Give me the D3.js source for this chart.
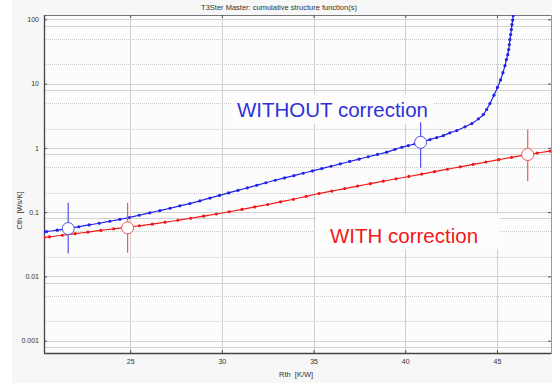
<!DOCTYPE html>
<head>
  <meta charset="utf-8" />
  <script src="https://d3js.org/d3.v7.min.js"></script>
  <style>
    body { margin: 0; background: #f6f7f6; }
    svg { display: block; font-family: "Liberation Sans", Arial, sans-serif; }
  </style>
</head>
<body>
  <div id="chart"></div>
  <script>
    // axes
    const xTicks = [25, 30, 35, 40, 45];
    const yTicks = [0.001, 0.01, 0.1, 1, 10, 100];
    const gridSolid = [0.0008, 0.001, 0.008, 0.01, 0.08, 0.1, 0.8, 1, 8, 10, 80, 100];
    const gridDotted = [0.002, 0.005, 0.02, 0.05, 0.2, 0.5, 2, 5, 20, 50];

    // WITHOUT correction (blue)
    const withoutR = [20.3, 20.44, 21.02, 21.62, 22.20, 22.76, 23.31, 23.89, 24.44, 24.95, 25.49,
      26.07, 26.62, 27.17, 27.71, 28.26, 28.80, 29.35, 29.87, 30.37, 30.88, 31.39, 31.90, 32.40,
      32.91, 33.42, 33.93, 34.43, 34.94, 35.45, 35.95, 36.46, 36.97, 37.48, 37.98, 38.49, 38.99,
      39.44, 39.81, 40.17, 40.53, 40.84, 41.35, 41.72, 42.08, 42.44, 42.81, 43.26, 43.63, 43.99,
      44.26, 44.44, 44.62, 44.84, 45.03, 45.20, 45.33, 45.44, 45.52, 45.59, 45.64, 45.68, 45.71,
      45.75, 45.79, 45.82, 45.86, 45.89];
    const withoutC = [0.0491, 0.0498, 0.0525, 0.0556, 0.0593, 0.0632, 0.0672, 0.0722, 0.0773, 0.0824, 0.0895,
      0.0975, 0.1059, 0.115, 0.1253, 0.136, 0.150, 0.1656, 0.182, 0.199, 0.2183, 0.2388, 0.2618, 0.2864,
      0.3133, 0.3404, 0.3698, 0.4027, 0.4375, 0.4764, 0.5176, 0.5636, 0.6143, 0.6675, 0.7271, 0.7894, 0.857,
      0.948, 1.022, 1.086, 1.154, 1.222, 1.346, 1.445, 1.553, 1.711, 1.858, 2.121, 2.387, 2.825,
      3.30, 3.95, 4.90, 6.60, 8.70, 11.4, 14.8, 19.0, 23.6, 28.2, 33.8, 40.4, 48.3,
      57.8, 69.2, 82.7, 97.2, 114.2];

    // WITH correction (red)
    const withR = [20.3, 20.6, 21.3, 22.0, 22.7, 23.4, 24.1, 24.8, 25.5, 26.2, 26.9, 27.6, 28.3, 29.0,
      29.7, 30.4, 31.1, 31.8, 32.5, 33.2, 33.9, 34.6, 35.3, 36.0, 36.7, 37.4, 38.1, 38.8, 39.5, 40.2,
      40.9, 41.6, 42.3, 43.0, 43.7, 44.4, 45.1, 45.8, 46.5, 47.2, 47.9];
    const withC = [0.0403, 0.0413, 0.0437, 0.0462, 0.049, 0.0519, 0.055, 0.0581, 0.0614, 0.065, 0.0697,
      0.0748, 0.0804, 0.0867, 0.0935, 0.1014, 0.1104, 0.1205, 0.1315, 0.1445, 0.1585, 0.176, 0.195,
      0.2128, 0.2323, 0.2541, 0.2773, 0.3027, 0.3304, 0.3589, 0.3908, 0.4266, 0.4645, 0.507, 0.5521,
      0.6026, 0.6546, 0.7112, 0.7709, 0.8318, 0.8913];

    // circle markers with vertical bars
    const withoutMarkR = [21.62, 40.84];
    const withoutMarkC = [0.0556, 1.22];
    const withoutMarkLo = [0.0227, 0.489];
    const withoutMarkHi = [0.1395, 2.5];
    const withMarkR = [24.86, 46.68];
    const withMarkC = [0.057, 0.787];
    const withMarkLo = [0.0233, 0.303];
    const withMarkHi = [0.14, 1.93];

    const width = 552, height = 383;
    const pLeft = 44, pRight = 551, pTop = 15, pBottom = 353;

    const svg = d3.select("#chart").append("svg")
      .attr("width", width)
      .attr("height", height);

    svg.append("rect").attr("width", width).attr("height", height).attr("fill", "#f6f7f6");
    svg.append("rect").attr("width", 12).attr("height", height).attr("fill", "#ffffff");

    const x = d3.scaleLinear().domain([20.3, 47.95]).range([pLeft, pRight]);
    const y = d3.scaleLog().domain([0.000644, 116.6]).range([pBottom, pTop]);

    svg.append("rect")
      .attr("x", pLeft).attr("y", pTop)
      .attr("width", pRight - pLeft).attr("height", pBottom - pTop)
      .attr("fill", "#fcfcfc");

    const grid = svg.append("g");
    grid.selectAll(".hs").data(gridSolid).join("line")
      .attr("x1", pLeft).attr("x2", pRight)
      .attr("y1", d => Math.round(y(d)) + 0.5).attr("y2", d => Math.round(y(d)) + 0.5)
      .attr("stroke", "#d2d2d2");
    grid.selectAll(".hd").data(gridDotted).join("line")
      .attr("x1", pLeft).attr("x2", pRight)
      .attr("y1", d => Math.round(y(d)) + 0.5).attr("y2", d => Math.round(y(d)) + 0.5)
      .attr("stroke", "#c8c8c8").attr("stroke-dasharray", "1,1");
    grid.selectAll(".v").data(xTicks).join("line")
      .attr("x1", d => Math.round(x(d)) + 0.5).attr("x2", d => Math.round(x(d)) + 0.5)
      .attr("y1", pTop).attr("y2", pBottom)
      .attr("stroke", "#cfcfcf");

    // white boxes behind the labels
    svg.append("rect").attr("x", 232).attr("y", 94).attr("width", 202).attr("height", 30).attr("fill", "#fdfdfd");
    svg.append("rect").attr("x", 316).attr("y", 214).attr("width", 184).attr("height", 35).attr("fill", "#fdfdfd");

    // axes
    const fmt = d3.format("~g");
    svg.append("g").attr("transform", `translate(${pLeft},0)`)
      .call(d3.axisLeft(y).tickValues(yTicks).tickFormat(fmt).tickSize(-3).tickSizeOuter(0).tickPadding(5))
      .call(g => g.selectAll("text").attr("font-size", 7).attr("fill", "#333"))
      .attr("font-family", null);
    svg.append("g").attr("transform", `translate(0,${pBottom})`)
      .call(d3.axisBottom(x).tickValues(xTicks).tickFormat(fmt).tickSize(-3).tickSizeOuter(0).tickPadding(6))
      .call(g => g.selectAll("text").attr("font-size", 7).attr("fill", "#333"))
      .attr("font-family", null);
    svg.append("g").attr("transform", `translate(${pRight},0)`)
      .call(d3.axisRight(y).tickValues(yTicks).tickFormat("").tickSize(-3).tickSizeOuter(0))
      .call(g => g.select(".domain").attr("stroke", "#999"));
    svg.append("g").attr("transform", `translate(0,${pTop})`)
      .call(d3.axisTop(x).tickValues(xTicks).tickFormat("").tickSize(-3).tickSizeOuter(0))
      .call(g => g.select(".domain").attr("stroke", "#777"));
    svg.selectAll(".tick line").attr("stroke", "#555");
    svg.append("line").attr("x1", pLeft + 0.5).attr("x2", pLeft + 0.5).attr("y1", pTop).attr("y2", pBottom)
      .attr("stroke", "#444").attr("stroke-width", 1.3);
    svg.append("line").attr("x1", pLeft).attr("x2", pRight).attr("y1", pBottom + 0.5).attr("y2", pBottom + 0.5)
      .attr("stroke", "#444").attr("stroke-width", 1.3);

    // titles
    svg.append("text").attr("x", 279).attr("y", 10).attr("text-anchor", "middle")
      .attr("font-size", 7.5).attr("fill", "#333")
      .text("T3Ster Master: cumulative structure function(s)");
    svg.append("text").attr("x", 279).attr("y", 377)
      .attr("font-size", 7.5).attr("fill", "#333").style("white-space", "pre")
      .text("Rth  [K/W]");
    svg.append("text").attr("transform", "translate(22,210.5) rotate(-90)").attr("text-anchor", "middle")
      .attr("font-size", 7.5).attr("fill", "#333").style("white-space", "pre")
      .text("Cth  [Ws/K]");

    // curves
    svg.append("clipPath").attr("id", "plot").append("rect")
      .attr("x", pLeft).attr("y", pTop).attr("width", pRight - pLeft).attr("height", pBottom - pTop);
    const plot = svg.append("g").attr("clip-path", "url(#plot)");

    function drawSeries(rs, cs, color) {
      const pts = rs.map((r, i) => [r, cs[i]]);
      plot.append("path").datum(pts)
        .attr("fill", "none").attr("stroke", color).attr("stroke-width", 1.2)
        .attr("d", d3.line().curve(d3.curveMonotoneX).x(d => x(d[0])).y(d => y(d[1])));
      plot.append("g").selectAll("circle").data(pts).join("circle")
        .attr("cx", d => x(d[0])).attr("cy", d => y(d[1])).attr("r", 1.6)
        .attr("fill", color);
    }
    drawSeries(withR, withC, "#f01818");
    drawSeries(withoutR, withoutC, "#2222e8");

    function drawMarks(rs, cs, lo, hi, color) {
      const g = plot.append("g");
      rs.forEach((r, i) => {
        g.append("line").attr("x1", x(r)).attr("x2", x(r))
          .attr("y1", y(lo[i])).attr("y2", y(hi[i]))
          .attr("stroke", color).attr("stroke-width", 1.2);
        g.append("circle").attr("cx", x(r)).attr("cy", y(cs[i])).attr("r", 6)
          .attr("fill", "#ffffff").attr("stroke", color).attr("stroke-width", 1);
      });
    }
    drawMarks(withMarkR, withMarkC, withMarkLo, withMarkHi, "#ee5a5a");
    drawMarks(withoutMarkR, withoutMarkC, withoutMarkLo, withoutMarkHi, "#5252ee");

    // annotations
    svg.append("text").attr("x", 237).attr("y", 117.3)
      .attr("font-size", 20.5).attr("fill", "#3030d8")
      .text("WITHOUT correction");
    svg.append("text").attr("x", 330).attr("y", 242.7)
      .attr("font-size", 20.5).attr("fill", "#f01818")
      .text("WITH correction");
  </script>
</body>
